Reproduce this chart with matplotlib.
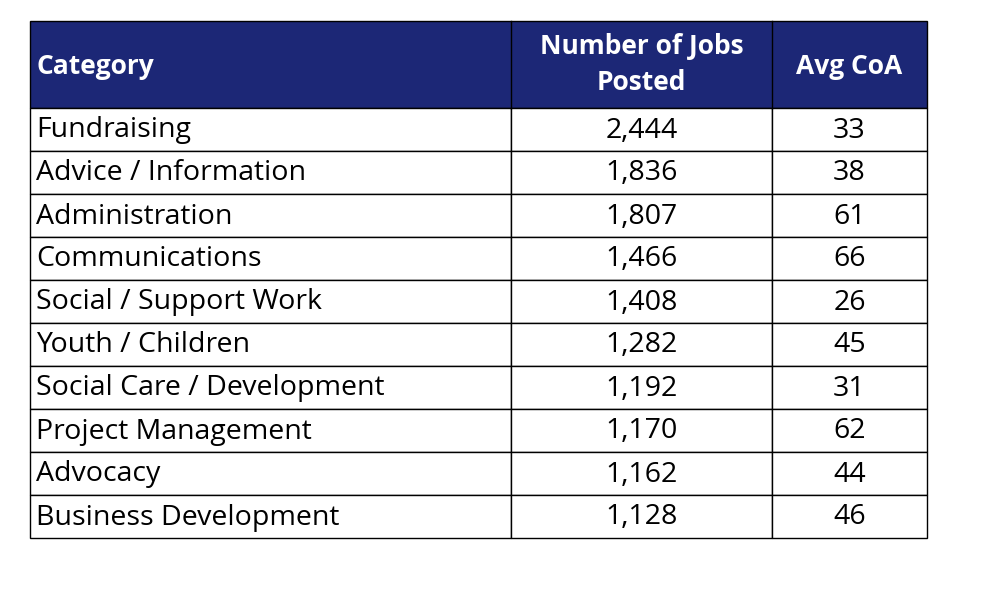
import matplotlib.pyplot as plt
from matplotlib.patches import Rectangle

# Data
headers = ["Category", "Number of Jobs\nPosted", "Avg CoA"]
categories = ["Fundraising", "Advice / Information", "Administration", "Communications",
              "Social / Support Work", "Youth / Children", "Social Care / Development",
              "Project Management", "Advocacy", "Business Development"]
jobs_posted = [2444, 1836, 1807, 1466, 1408, 1282, 1192, 1170, 1162, 1128]
avg_coa = [33, 38, 61, 66, 26, 45, 31, 62, 44, 46]

# Layout (pixel coords)
col_x = [30, 511, 772, 927]
head_top, head_bot = 21, 108
row_h = 43
navy = "#1c2776"
font = "Open Sans"

fig = plt.figure(figsize=(9.92, 6.02), dpi=100)
ax = fig.add_axes([0, 0, 1, 1])
ax.set_xlim(0, 992)
ax.set_ylim(602, 0)
ax.axis("off")

# header
ax.add_patch(Rectangle((col_x[0], head_top), col_x[-1] - col_x[0], head_bot - head_top,
                       facecolor=navy, edgecolor="black", lw=1))
for i in range(1, 3):
    ax.plot([col_x[i], col_x[i]], [head_top, head_bot], color="black", lw=1)
hy = (head_top + head_bot) / 2
ax.text(col_x[0] + 7, hy + 2, headers[0], color="white", fontsize=19, fontweight="bold",
        family=font, va="center", ha="left")
ax.text((col_x[1] + col_x[2]) / 2, hy, headers[1], color="white", fontsize=19,
        fontweight="bold", family=font, va="center", ha="center", linespacing=1.45)
ax.text((col_x[2] + col_x[3]) / 2, hy + 2, headers[2], color="white", fontsize=19,
        fontweight="bold", family=font, va="center", ha="center")

# body
for r, (cat, jobs, coa) in enumerate(zip(categories, jobs_posted, avg_coa)):
    top = head_bot + r * row_h
    for i in range(3):
        ax.add_patch(Rectangle((col_x[i], top), col_x[i + 1] - col_x[i], row_h,
                               facecolor="white", edgecolor="black", lw=1))
    cy = top + row_h / 2 + 1
    ax.text(col_x[0] + 6, cy, cat, fontsize=20.5, family=font, va="center", ha="left")
    ax.text((col_x[1] + col_x[2]) / 2, cy, f"{jobs:,}", fontsize=20.5, family=font,
            va="center", ha="center")
    ax.text((col_x[2] + col_x[3]) / 2, cy, str(coa), fontsize=20.5, family=font,
            va="center", ha="center")

fig.savefig("out.png", dpi=100)
